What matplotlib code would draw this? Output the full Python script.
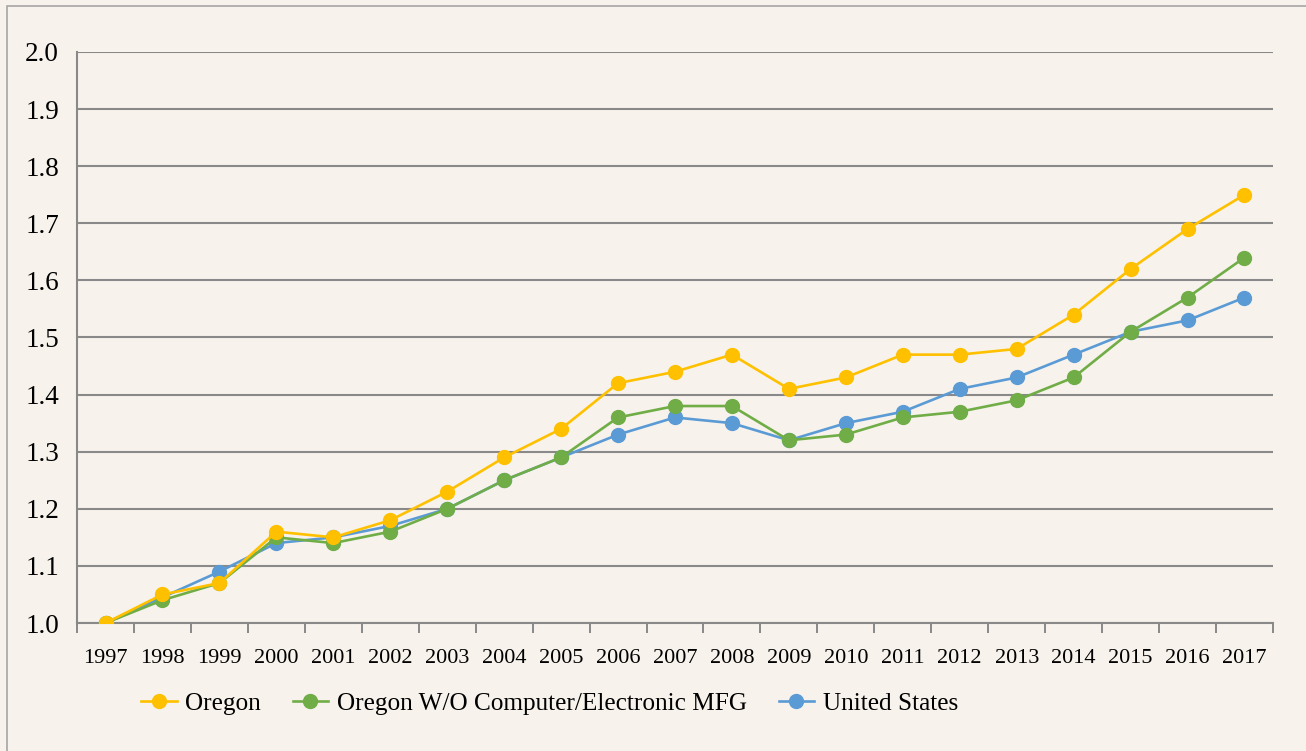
import matplotlib
matplotlib.use("Agg")
import matplotlib.pyplot as plt
from matplotlib.patches import Rectangle
from matplotlib.ticker import FixedLocator

years = [str(y) for y in range(1997, 2018)]
oregon = [1.00, 1.05, 1.07, 1.16, 1.15, 1.18, 1.23, 1.29, 1.34, 1.42, 1.44,
          1.47, 1.41, 1.43, 1.47, 1.47, 1.48, 1.54, 1.62, 1.69, 1.75]
oregon_wo = [1.00, 1.04, 1.07, 1.15, 1.14, 1.16, 1.20, 1.25, 1.29, 1.36, 1.38,
             1.38, 1.32, 1.33, 1.36, 1.37, 1.39, 1.43, 1.51, 1.57, 1.64]
united_states = [1.00, 1.045, 1.09, 1.14, 1.15, 1.17, 1.20, 1.25, 1.29, 1.33, 1.36,
                 1.35, 1.32, 1.35, 1.37, 1.41, 1.43, 1.47, 1.51, 1.53, 1.57]
y_ticks = [1.0, 1.1, 1.2, 1.3, 1.4, 1.5, 1.6, 1.7, 1.8, 1.9, 2.0]

bg = "#F7F3EC"
grid_col = "#898989"
plt.rcParams["font.family"] = ["Liberation Serif", "DejaVu Serif"]

fig = plt.figure(figsize=(13.06, 7.51), dpi=100, facecolor=bg)
ax = fig.add_axes([0.059, 0.1704, 0.9157, 0.7604])
ax.set_facecolor(bg)

# outer frame
fig.patches.append(Rectangle((0.0054, -0.1), 2, 1.092, transform=fig.transFigure,
                             fill=False, edgecolor="#A6A6A6", linewidth=1.2))

x = list(range(len(years)))
ms = 10
lw = 1.9
ax.plot(x, united_states, color="#5B9BD5", marker="o", ms=ms, lw=lw, zorder=3, label="United States")
ax.plot(x, oregon_wo, color="#70AD47", marker="o", ms=ms, lw=lw, zorder=4,
        label="Oregon W/O Computer/Electronic MFG")
ax.plot(x, oregon, color="#FFC000", marker="o", ms=ms, lw=lw, zorder=5, label="Oregon")

ax.set_xlim(-0.5, len(years) - 0.5)
ax.set_ylim(1.0, 2.0)
ax.set_yticks(y_ticks)
ax.set_yticklabels([f"{v:.1f}" for v in y_ticks], fontsize=19.5)
ax.set_xticks(x)
ax.set_xticklabels(years, fontsize=16)
ax.xaxis.set_minor_locator(FixedLocator([i - 0.5 for i in range(len(years) + 1)]))
ax.tick_params(axis="x", which="major", length=0, pad=19)
ax.tick_params(axis="x", which="minor", length=7, width=1.4, color=grid_col)
ax.tick_params(axis="y", length=0, pad=13)

ax.grid(axis="y", color=grid_col, linewidth=1.5, zorder=1)
for s in ["top", "right"]:
    ax.spines[s].set_visible(False)
for s in ["left", "bottom"]:
    ax.spines[s].set_color(grid_col)
    ax.spines[s].set_linewidth(1.5)

h, l = ax.get_legend_handles_labels()
order = [2, 1, 0]
fig.legend([h[i] for i in order], [l[i] for i in order], loc="center left",
           bbox_to_anchor=(0.0907, 0.063), ncol=3, frameon=False, fontsize=18.2,
           handlelength=1.4, handletextpad=0.35, columnspacing=1.25)

fig.savefig("out.png", dpi=100, facecolor=bg)
